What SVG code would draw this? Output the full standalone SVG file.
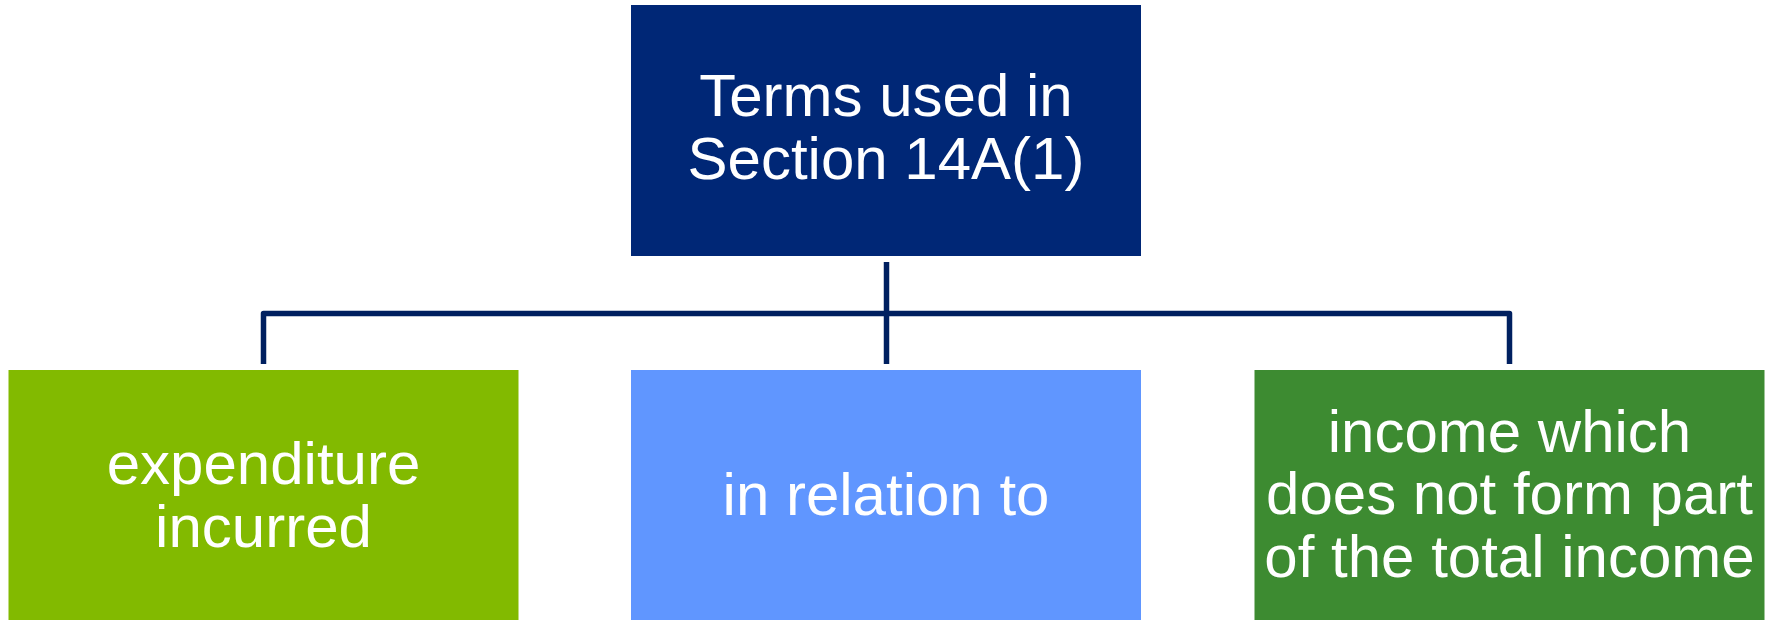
<svg xmlns="http://www.w3.org/2000/svg" width="1777" height="620" viewBox="0 0 1777 620">
<style>
.lbl{font-family:"Liberation Sans",Arial,sans-serif;font-size:60px;fill:#FFFFFF;text-anchor:middle}
.conn{fill:none;stroke:#002060;stroke-width:5.5;stroke-linejoin:round}
</style>
<rect width="1777" height="620" fill="#FFFFFF"/>
<g id="connectors">
<path class="conn" d="M886.5,262 V364"/>
<path class="conn" d="M263.5,364 V313.5 H1509.5 V364"/>
</g>
<g id="node-root">
<rect x="631" y="5" width="510" height="251" fill="#002776"/>
<text class="lbl" x="886" y="116">Terms used in</text>
<text class="lbl" x="886" y="179">Section 14A(1)</text>
</g>
<g id="node-expenditure">
<rect x="8.5" y="370" width="510" height="252" fill="#82BA00"/>
<text class="lbl" x="263.5" y="484">expenditure</text>
<text class="lbl" x="263.5" y="547">incurred</text>
</g>
<g id="node-relation">
<rect x="631" y="370" width="510" height="252" fill="#6096FF"/>
<text class="lbl" x="886" y="515">in relation to</text>
</g>
<g id="node-income">
<rect x="1254.5" y="370" width="510" height="252" fill="#3D8B31"/>
<text class="lbl" x="1509.5" y="452">income which</text>
<text class="lbl" x="1509.5" y="514">does not form part</text>
<text class="lbl" x="1509.5" y="577">of the total income</text>
</g>
</svg>
